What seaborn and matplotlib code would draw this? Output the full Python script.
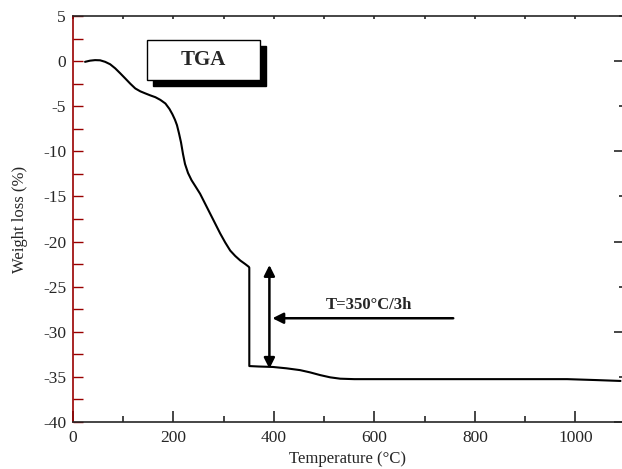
import matplotlib
matplotlib.use("Agg")
import matplotlib.pyplot as plt
import seaborn as sns
from matplotlib.patches import Rectangle
from matplotlib.ticker import MultipleLocator

temperature = [24, 34, 44, 54, 64, 74, 84, 94, 104, 114, 124, 134, 144, 154, 164, 174, 184, 192, 198, 203,
               207, 211, 215, 219, 223, 229, 236, 244, 253, 263, 273, 283, 293, 303, 313, 323, 333, 343, 350,
               351, 351, 370, 398, 425, 452, 472, 492, 512, 532, 560, 600, 700, 800, 900, 984, 1040, 1090]
weight_loss = [-0.08, 0.05, 0.11, 0.09, -0.08, -0.35, -0.8, -1.35, -1.92, -2.5, -3.03, -3.35, -3.58, -3.8,
               -4.0, -4.3, -4.7, -5.3, -5.9, -6.5, -7.1, -8.0, -9.0, -10.3, -11.4, -12.4, -13.2, -13.9, -14.7,
               -15.8, -16.9, -18.0, -19.1, -20.1, -21.0, -21.6, -22.1, -22.5, -22.8, -22.9, -33.8, -33.85,
               -33.9, -34.05, -34.25, -34.5, -34.8, -35.05, -35.2, -35.25, -35.25, -35.25, -35.25, -35.25,
               -35.25, -35.35, -35.45]

sns.set_style("ticks")
plt.rcParams['font.family'] = ['Liberation Serif', 'DejaVu Serif']
plt.rcParams['axes.unicode_minus'] = False

fig = plt.figure(figsize=(6.22, 4.69), dpi=100)
ax = fig.add_axes([73/622, 1 - 422/469, 1 - 73/622, (422 - 16)/469])

sns.lineplot(x=temperature, y=weight_loss, sort=False, estimator=None, color="black", linewidth=1.5, ax=ax)

ax.set_xlim(0, 1093)
ax.set_ylim(-40, 5)

dark_red = "#990000"
ax.spines['left'].set_color(dark_red)
ax.spines['left'].set_linewidth(1.2)
ax.spines['bottom'].set_linewidth(1.2)
ax.spines['top'].set_linewidth(1.2)
ax.spines['right'].set_visible(False)

ax.xaxis.set_major_locator(MultipleLocator(200))
ax.xaxis.set_minor_locator(MultipleLocator(100))
ax.yaxis.set_major_locator(MultipleLocator(5))
ax.yaxis.set_minor_locator(MultipleLocator(2.5))

ax.tick_params(axis='x', which='major', direction='in', length=8, width=1.2, labelsize=12.5, pad=6,
               bottom=True, top=False)
ax.tick_params(axis='x', which='minor', direction='in', length=4, width=1.2, bottom=True, top=False)
ax.tick_params(axis='y', which='both', direction='in', length=7, width=1.0, color=dark_red, labelsize=12.5,
               left=True, right=False, pad=5)

axt = ax.secondary_xaxis('top')
axt.xaxis.set_major_locator(MultipleLocator(100))
axt.tick_params(direction='in', length=2.5, width=1.2, labeltop=False)
axt.spines['top'].set_visible(False)

axr = ax.secondary_yaxis('right')
axr.yaxis.set_major_locator(MultipleLocator(10))
axr.yaxis.set_minor_locator(MultipleLocator(5))
axr.tick_params(which='major', direction='in', length=6, width=1.2, labelright=False)
axr.tick_params(which='minor', direction='in', length=2.5, width=1.2)
axr.spines['right'].set_visible(False)

ax.set_xlabel("Temperature (°C)", fontsize=12, labelpad=3)
ax.set_ylabel("Weight loss (%)", fontsize=12, labelpad=11)

ax.add_patch(Rectangle((160, -2.75), 225, 4.45, facecolor="black", edgecolor="black", zorder=3))
ax.add_patch(Rectangle((147, -2.1), 225, 4.45, facecolor="white", edgecolor="black", linewidth=1.0, zorder=4))
ax.text(259.5, 0.1, "TGA", fontsize=15, fontweight="bold", ha="center", va="center", zorder=5)

ax.annotate("", xy=(391, -22.6), xytext=(391, -34.1),
            arrowprops=dict(arrowstyle="<|-|>", color="black", lw=1.8, mutation_scale=16, shrinkA=0, shrinkB=0))
ax.annotate("", xy=(397, -28.5), xytext=(757, -28.5),
            arrowprops=dict(arrowstyle="-|>", color="black", lw=1.8, mutation_scale=16, shrinkA=0, shrinkB=0))
ax.text(590, -27.0, "T=350°C/3h", fontsize=12, fontweight="bold", ha="center", va="center")

fig.savefig("out.png", dpi=100)
